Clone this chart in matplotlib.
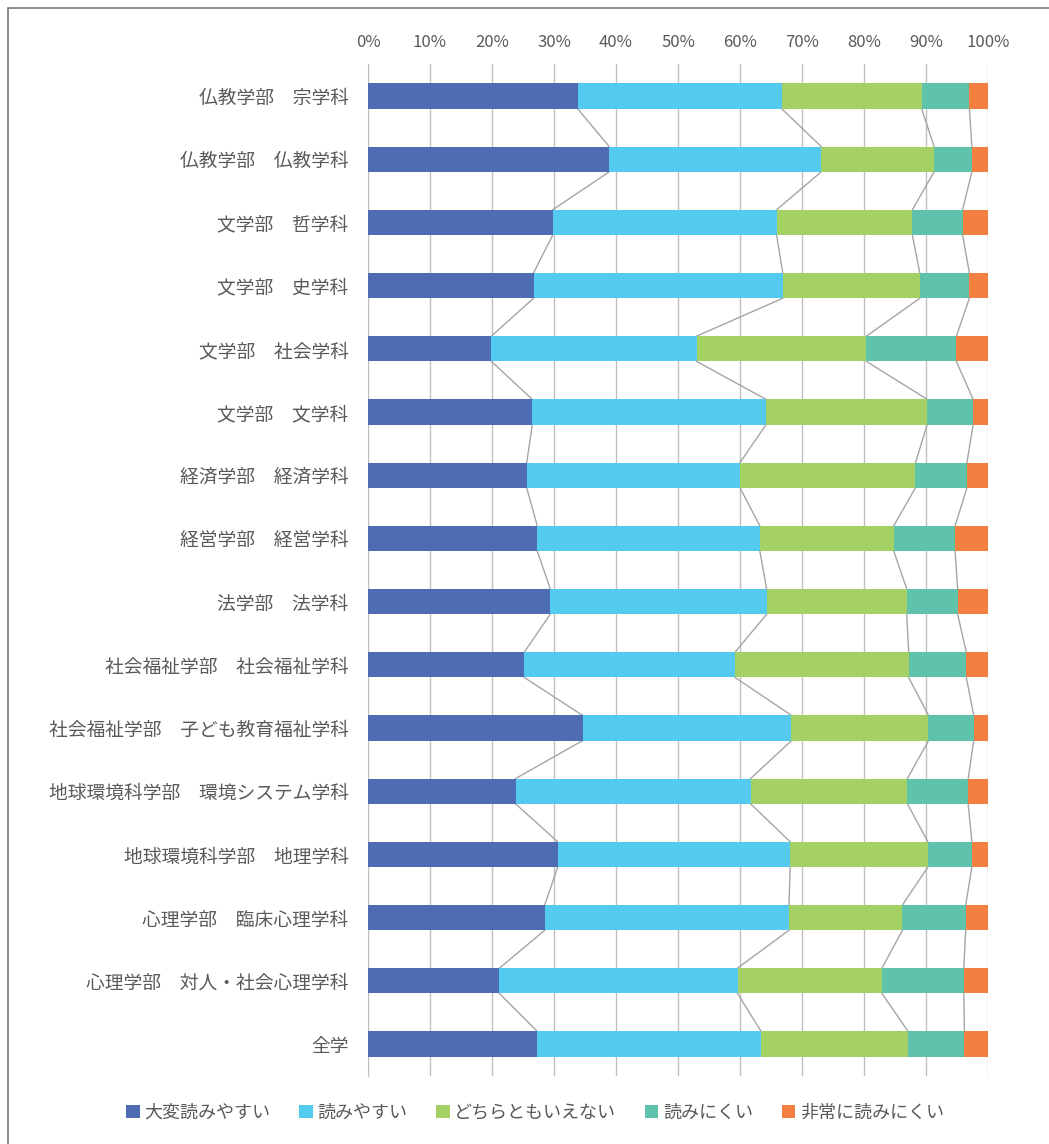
import numpy as np
import matplotlib
matplotlib.use("Agg")
import matplotlib.pyplot as plt
from matplotlib.patches import Rectangle

plt.rcParams['font.family'] = ['Noto Sans CJK JP', 'DejaVu Sans']

categories = [
    "仏教学部　宗学科",
    "仏教学部　仏教学科",
    "文学部　哲学科",
    "文学部　史学科",
    "文学部　社会学科",
    "文学部　文学科",
    "経済学部　経済学科",
    "経営学部　経営学科",
    "法学部　法学科",
    "社会福祉学部　社会福祉学科",
    "社会福祉学部　子ども教育福祉学科",
    "地球環境科学部　環境システム学科",
    "地球環境科学部　地理学科",
    "心理学部　臨床心理学科",
    "心理学部　対人・社会心理学科",
    "全学",
]

series_names = ["大変読みやすい", "読みやすい", "どちらともいえない", "読みにくい", "非常に読みにくい"]

very_easy = [33.8, 38.9, 29.8, 26.7, 19.9, 26.5, 25.6, 27.3, 29.4, 25.2, 34.6, 23.8, 30.6, 28.5, 21.2, 27.3]
easy      = [32.9, 34.2, 36.1, 40.2, 33.1, 37.7, 34.4, 35.9, 34.9, 34.0, 33.7, 37.9, 37.5, 39.4, 38.4, 36.1]
neutral   = [22.6, 18.2, 21.9, 22.1, 27.4, 26.0, 28.3, 21.6, 22.6, 28.0, 22.1, 25.3, 22.2, 18.3, 23.3, 23.7]
hard      = [7.7, 6.1, 8.1, 8.0, 14.5, 7.4, 8.3, 9.9, 8.2, 9.3, 7.3, 9.8, 7.1, 10.2, 13.2, 9.1]
very_hard = [3.0, 2.6, 4.1, 3.0, 5.1, 2.4, 3.4, 5.3, 4.9, 3.5, 2.3, 3.2, 2.6, 3.6, 3.9, 3.8]

colors = ["#4E6CB4", "#54CAEE", "#A5D064", "#5FC3AB", "#F38041"]

data = np.array([very_easy, easy, neutral, hard, very_hard])
data = data / data.sum(axis=0) * 100

fig = plt.figure(figsize=(10.49, 11.44), dpi=100)
ax = fig.add_axes([368 / 1049, 1 - 1075.6 / 1144, 620 / 1049, (1075.6 - 64.4) / 1144])

y = np.arange(len(categories))
bar_h = 0.4
left = np.zeros(len(categories))
for vals, name, c in zip(data, series_names, colors):
    ax.barh(y, vals, left=left, height=bar_h, color=c, label=name, linewidth=0, zorder=3)
    left = left + vals

# series lines between bars
cum = np.cumsum(data, axis=0)
for k in range(4):
    for i in range(len(categories) - 1):
        ax.plot([cum[k, i], cum[k, i + 1]], [i + bar_h / 2, i + 1 - bar_h / 2],
                color="#A5A5A5", lw=1, zorder=2)

ax.set_xlim(0, 100)
ax.set_ylim(len(categories) - 0.5, -0.5)
ax.set_xticks(np.arange(0, 101, 10))
ax.set_xticklabels([f"{v}%" for v in range(0, 101, 10)])
ax.xaxis.tick_top()
ax.set_yticks(y)
ax.set_yticklabels(categories)
ax.tick_params(axis="x", length=0, pad=9.5, labelsize=12, labelcolor="#595959")
ax.tick_params(axis="y", length=0, pad=14, labelsize=13.5, labelcolor="#595959")
ax.grid(axis="x", color="#BFBFBF", lw=1, zorder=0)
for s in ["top", "right", "bottom"]:
    ax.spines[s].set_visible(False)
ax.spines["left"].set_color("#BFBFBF")

leg = fig.legend(loc="center", bbox_to_anchor=(535 / 1049, 1 - 1113 / 1144), ncol=5,
                 frameon=False, fontsize=13, handlelength=0.75, handleheight=0.75,
                 handletextpad=0.25, columnspacing=1.6)
for t in leg.get_texts():
    t.set_color("#595959")

fig.patches.append(Rectangle((8 / 1049, -0.1), 1.2, 1 - 8 / 1144 + 0.1, transform=fig.transFigure,
                             fill=False, edgecolor="#767676", lw=1.2))

fig.savefig("out.png", dpi=100)
